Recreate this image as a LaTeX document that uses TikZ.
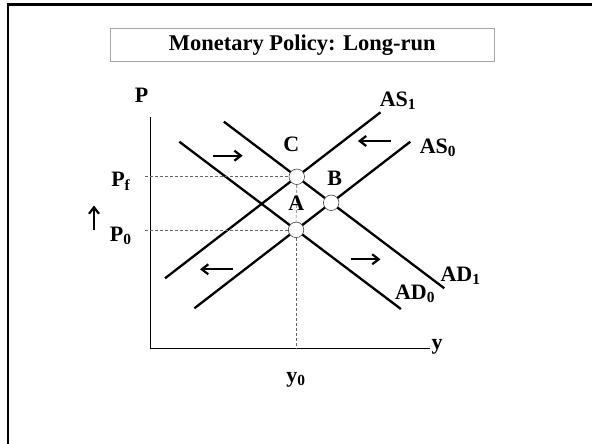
\documentclass[tikz,border=0pt]{standalone}
\usepackage{fontspec}
\setmainfont{Liberation Serif}
\usetikzlibrary{arrows.meta, positioning, calc}

\begin{document}
\begin{tikzpicture}[x=1pt, y=-1pt,
  lbl/.style={font=\bfseries\fontsize{22}{24}\selectfont, inner sep=0pt},
  crv/.style={line width=2.3pt},
  eq/.style={circle, draw=black!75, line width=0.6pt, fill=white, minimum size=15.5pt, inner sep=0pt},
  mv/.style={-{Straight Barb[length=6.5pt, width=10pt]}, line width=2.2pt},
  grd/.style={densely dashed, black!60, line width=0.6pt}]
  \useasboundingbox (0,0) rectangle (592,444);
  \draw[line width=2.3pt] (7.8,450) -- (7.8,4.5) -- (600,4.5);

  \node[draw=gray!70, line width=1.2pt, minimum width=384pt, minimum height=33pt, font=\bfseries\fontsize{22.5}{24}\selectfont](ttl) at (302.3,45) {Monetary Policy: Long-run};

  % axes
  \coordinate (ytop) at (150,117);
  \coordinate (o) at (150,348);
  \coordinate (xend) at (430,348);
  \draw[line width=1pt] (ytop) -- (o) -- (xend);
  \node[lbl](pl) at (141.5,95) {P};
  \node[lbl](yl) at (437,347) {y};

  % curves
  \coordinate (as0a) at (194.4,308.3); \coordinate (as0b) at (410.3,141.7);
  \coordinate (as1a) at (165,278.3);   \coordinate (as1b) at (380.5,112.3);
  \coordinate (ad0a) at (179.3,141.7); \coordinate (ad0b) at (400.9,309);
  \coordinate (ad1a) at (223.9,121.7); \coordinate (ad1b) at (444.3,288.3);
  \draw[crv] (as0a) -- (as0b);
  \draw[crv] (as1a) -- (as1b);
  \draw[crv] (ad0a) -- (ad0b);
  \draw[crv] (ad1a) -- (ad1b);

  \node[eq](A) at (intersection of as0a--as0b and ad0a--ad0b) {};
  \node[eq](C) at (intersection of as1a--as1b and ad1a--ad1b) {};
  \node[eq](B) at (intersection of as0a--as0b and ad1a--ad1b) {};

  \coordinate (lft) at (145,0);
  \draw[grd] (lft |- C) -- (C.west);
  \draw[grd] (lft |- A) -- (A.west);
  \draw[grd] (C.south) -- (A.north);
  \draw[grd] (A.south) -- (A |- o);

  \node[lbl](lc) at (291.4,144) {C};
  \node[lbl](lb) at (334.8,178.3) {B};
  \node[lbl](la) at (296.3,203.3) {A};
  \node[lbl](las1) at (398,101) {AS\textsubscript{1}};
  \node[lbl](las0) at (438,147.5) {AS\textsubscript{0}};
  \node[lbl](lad1) at (460.5,276) {AD\textsubscript{1}};
  \node[lbl](lad0) at (415,294) {AD\textsubscript{0}};
  \node[lbl](lpf) at (120.8,181) {P\textsubscript{f}};
  \node[lbl](lp0) at (120.8,236) {P\textsubscript{0}};
  \node[lbl](ly0) at (296,380) {y\textsubscript{0}};

  % shifts
  \coordinate (m1a) at (213.3,155.7); \coordinate (m1b) at (242.7,155.7);
  \coordinate (m2a) at (390.7,141);   \coordinate (m2b) at (357.9,141);
  \coordinate (m3a) at (233.3,269.3); \coordinate (m3b) at (200,269.3);
  \coordinate (m4a) at (351,259.3);   \coordinate (m4b) at (380.5,259.3);
  \coordinate (upa) at (94,230);      \coordinate (upb) at (94,205.5);
  \draw[mv] (m1a) -- (m1b);
  \draw[mv] (m2a) -- (m2b);
  \draw[mv] (m3a) -- (m3b);
  \draw[mv] (m4a) -- (m4b);
  \draw[mv] (upa) -- (upb);
\end{tikzpicture}
\end{document}
